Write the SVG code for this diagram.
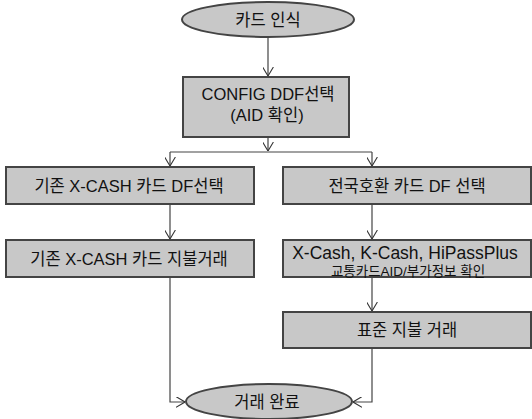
<svg xmlns="http://www.w3.org/2000/svg" width="532" height="419" viewBox="0 0 532 419">
<defs>
<marker id="arr" viewBox="0 0 10 12" refX="10" refY="6" markerWidth="9" markerHeight="11" markerUnits="userSpaceOnUse" orient="auto">
<path d="M0,0 L10,6 L0,12" fill="none" stroke="#333" stroke-width="1.2"/>
</marker>
<style>
.box{fill:#c8c8c8;stroke:#444;stroke-width:2}
.t{font-family:"Liberation Sans","Noto Sans CJK KR",sans-serif;font-size:16.5px;fill:#111;text-anchor:middle}
.s{font-size:13.5px}
.c{fill:none;stroke:#444;stroke-width:1.2}
</style>
</defs>
<rect width="532" height="419" fill="#fff"/>
<g id="connectors">
<path class="c" d="M268,37 V76" marker-end="url(#arr)"/>
<path class="c" d="M268,137 V151" marker-end="url(#arr)"/>
<path class="c" d="M170,152 H372"/>
<path class="c" d="M170,152 V166" marker-end="url(#arr)"/>
<path class="c" d="M372,152 V166" marker-end="url(#arr)"/>
<path class="c" d="M170,204 V239" marker-end="url(#arr)"/>
<path class="c" d="M372,204 V239" marker-end="url(#arr)"/>
<path class="c" d="M372,277 V311" marker-end="url(#arr)"/>
<path class="c" d="M170,277 V402 H185" marker-end="url(#arr)"/>
<path class="c" d="M372,348 V402 H353" marker-end="url(#arr)"/>
</g>
<g id="start">
<ellipse class="box" cx="268" cy="19.5" rx="86" ry="17.5"/>
<text class="t" x="268" y="25.5">카드 인식</text>
</g>
<g id="config">
<rect class="box" x="183" y="77" width="166" height="60"/>
<text class="t" x="268" y="100">CONFIG DDF선택</text>
<text class="t" x="267" y="121">(AID 확인)</text>
</g>
<g id="left1">
<rect class="box" x="6" y="167" width="248" height="37"/>
<text class="t" x="129" y="191.5">기존 X-CASH 카드 DF선택</text>
</g>
<g id="right1">
<rect class="box" x="283" y="167" width="248" height="37"/>
<text class="t" x="407" y="191.5">전국호환 카드 DF 선택</text>
</g>
<g id="left2">
<rect class="box" x="6" y="240" width="248" height="37"/>
<text class="t" x="129" y="264.5">기존 X-CASH 카드 지불거래</text>
</g>
<g id="right2">
<rect class="box" x="283" y="240" width="248" height="37"/>
<text class="t" x="405" y="259" style="font-size:17.5px">X-Cash, K-Cash, HiPassPlus</text>
<text class="t s" x="408" y="276">교통카드AID/부가정보 확인</text>
</g>
<g id="right3">
<rect class="box" x="283" y="312" width="248" height="36"/>
<text class="t" x="407" y="336">표준 지불 거래</text>
</g>
<g id="end">
<ellipse class="box" cx="269" cy="401.5" rx="83" ry="17.5"/>
<text class="t" x="267" y="407.5">거래 완료</text>
</g>
</svg>
